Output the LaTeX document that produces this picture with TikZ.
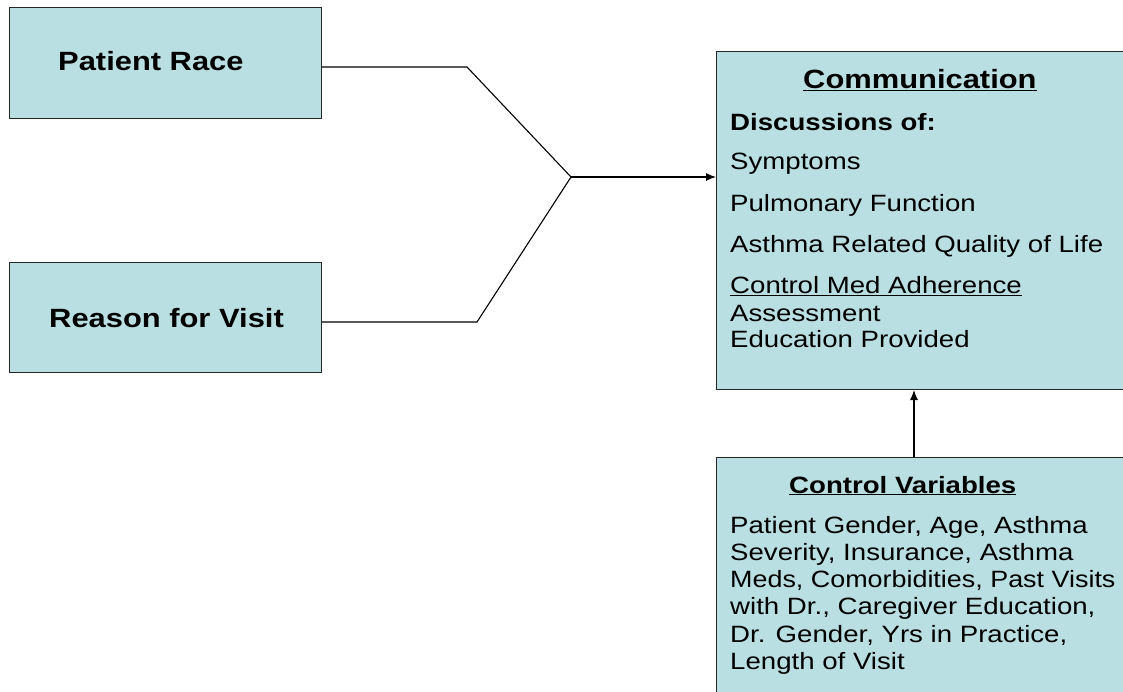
\documentclass[tikz,border=0pt]{standalone}
\usepackage{fontspec}
\setmainfont{Liberation Sans}
\usetikzlibrary{arrows.meta}
\definecolor{boxfill}{RGB}{185,223,227}
\newcommand{\sx}[1]{\scalebox{1.17}[1]{#1}}
\newcommand{\fbig}{\fontsize{26.4}{30}\selectfont}
\newcommand{\fmid}{\fontsize{23.6}{27}\selectfont}
\begin{document}
\begin{tikzpicture}[x=1pt,y=-1pt,
  box/.style={draw=black!85,line width=1pt,fill=boxfill,anchor=north west,inner sep=0pt},
  txt/.style={anchor=base west,inner sep=0pt},
  conn/.style={draw=black,line width=1.1pt},
  arr/.style={conn,-{Latex[length=10pt,width=8pt]}}]
\useasboundingbox (0,0) rectangle (1123,692);
\clip (0,0) rectangle (1123,692);
% boxes
\node[box,minimum width=312pt,minimum height=111pt] (pr) at (9,7) {};
\node[box,minimum width=312pt,minimum height=110pt] (rv) at (9,262) {};
\node[box,minimum width=420pt,minimum height=338pt] (comm) at (716,51) {};
\node[box,minimum width=420pt,minimum height=250pt] (cv) at (716,457) {};
% left texts
\node[txt] (prt) at (58,71) {\fbig\sx{\bfseries Patient Race}};
\node[txt] (rvt) at (49,327) {\fbig\sx{\bfseries Reason for Visit}};
% communication texts
\node[txt] (c0) at (803,89) {\fbig\sx{\bfseries\underline{Communication}}};
\node[txt] (c1) at (730,131) {\fmid\sx{\bfseries Discussions of:}};
\node[txt] (c2) at (730,170) {\fmid\sx{Symptoms}};
\node[txt] (c3) at (730,212) {\fmid\sx{Pulmonary Function}};
\node[txt] (c4) at (730,253) {\fmid\sx{Asthma Related Quality of Life}};
\node[txt] (c5) at (730,294) {\fmid\sx{\underline{Control Med Adherence}}};
\node[txt] (c6) at (730,321) {\fmid\sx{Assessment}};
\node[txt] (c7) at (730,347) {\fmid\sx{Education Provided}};
% control variables texts
\node[txt] (v0) at (789,493) {\fmid\sx{\bfseries\underline{Control Variables}}};
\node[txt] (v1) at (730,533) {\fmid\sx{Patient Gender, Age, Asthma}};
\node[txt] (v2) at (730,560) {\fmid\sx{Severity, Insurance, Asthma}};
\node[txt] (v3) at (730,587) {\fmid\scalebox{1.14}[1]{Meds, Comorbidities, Past Visits}};
\node[txt] (v4) at (730,614) {\fmid\sx{with Dr., Caregiver Education,}};
\node[txt] (v5) at (730,642) {\fmid\sx{Dr. Gender, Yrs in Practice,}};
\node[txt] (v6) at (730,669) {\fmid\sx{Length of Visit}};
% connectors
\coordinate (k1) at (467,67);
\coordinate (k2) at (477,322);
\coordinate (j) at (571,177);
\coordinate (up) at (914,457);
\draw[conn] (pr.east |- k1) -- (k1) -- (j);
\draw[conn] (rv.east |- k2) -- (k2) -- (j);
\draw[arr] (j) -- (comm.west |- j);
\draw[arr] (up) -- (comm.south -| up);
\end{tikzpicture}
\end{document}
